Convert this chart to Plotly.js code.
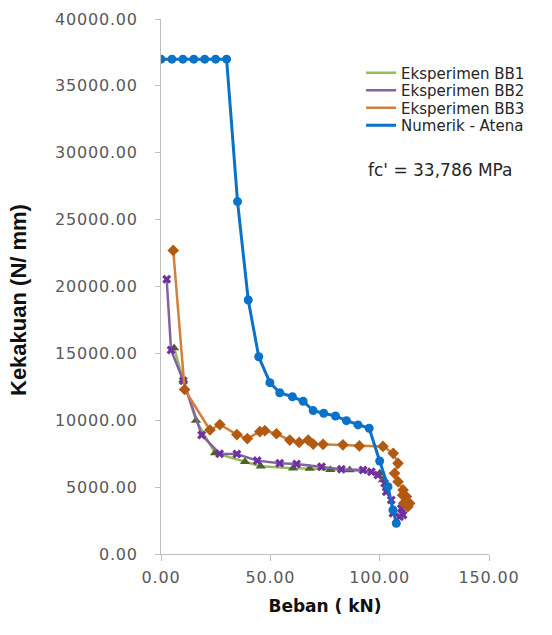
<!DOCTYPE html>
<html>
<head>
<meta charset="utf-8">
<script src="https://cdn.plot.ly/plotly-3.0.1.min.js"></script>
<style>
  html, body { margin: 0; padding: 0; background: #ffffff; overflow: hidden; }
  #chart { width: 552px; height: 635px; }
  #chart .xtick text, #chart .ytick text { letter-spacing: 0.8px; }
</style>
</head>
<body>
<div id="chart"></div>
<script>
// ---- Data ----
const seriesNames = ["Eksperimen BB1", "Eksperimen BB2", "Eksperimen BB3", "Numerik - Atena"];

const bb1Load = [6.0, 10.2, 16.0, 24.7, 38.4, 45.6, 60.4, 68.0, 77.4, 86.3, 100.0, 101.5, 103.5];
const bb1Stiff = [15400, 13010, 9990, 7550, 6900, 6560, 6420, 6400, 6290, 6280, 6030, 5530, 5050];

const bb2Load = [2.6, 4.6, 10.2, 18.6, 26.8, 34.7, 44.0, 54.3, 62.0, 73.4, 82.5, 92.4, 96.2, 99.2, 102.3, 103.0, 105.3, 106.1, 109.1, 110.7, 109.9];
const bb2Stiff = [20540, 15250, 12950, 8900, 7500, 7480, 6980, 6780, 6730, 6530, 6330, 6280, 6150, 5900, 5290, 4660, 4040, 3040, 2790, 2920, 3410];

const bb3Load = [5.6, 10.8, 22.4, 26.9, 34.7, 39.5, 45.2, 47.5, 52.8, 58.9, 63.2, 67.3, 69.6, 74.1, 83.2, 90.7, 101.5, 106.2, 108.4, 106.8, 108.4, 110.7, 112.2, 113.7, 112.9, 111.0, 110.5];
const bb3Stiff = [22700, 12300, 9270, 9680, 8930, 8630, 9150, 9220, 8990, 8520, 8340, 8520, 8220, 8200, 8160, 8080, 8040, 7530, 6780, 6030, 5410, 4790, 4290, 3790, 3540, 3800, 4400];

const numLoad = [0, 5, 10, 15, 20, 25, 30, 35, 39.9, 44.7, 49.8, 54.3, 60.1, 65, 69.6, 74.4, 79.8, 84.8, 90.1, 95.2, 100, 103.8, 106.1, 107.6];
const numStiff = [37000, 37000, 37000, 37000, 37000, 37000, 37000, 26350, 18990, 14750, 12810, 12060, 11760, 11420, 10720, 10520, 10320, 9970, 9650, 9400, 6950, 5030, 3290, 2300];

const xTickVals = [0, 50, 100, 150];
const yTickVals = [0, 5000, 10000, 15000, 20000, 25000, 30000, 35000, 40000];
const noteText = "fc' = 33,786 MPa";
const xTitle = "Beban ( kN)";
const yTitle = "Kekakuan (N/ mm)";

// ---- Styles ----
const lineColors = ["#9bbb59", "#8064a2", "#d0803c", "#0a72c8"];
const markerColors = ["#4f6228", "#7030a0", "#b35a12", "#0a72c8"];
const markerSymbols = ["triangle-up", "x", "diamond", "circle"];
const markerSizes = [9, 8, 9, 9];
const lineWidths = [2.5, 2.5, 2.5, 3];
const legendIds = ["legend", "legend2", "legend3", "legend4"];

const loads = [bb1Load, bb2Load, bb3Load, numLoad];
const stiffs = [bb1Stiff, bb2Stiff, bb3Stiff, numStiff];

const traces = [];
// data traces (legend shows line-only samples, like the original)
for (let i = 0; i < 4; i++) {
  traces.push({
    x: loads[i], y: stiffs[i], name: seriesNames[i], type: "scatter", mode: "lines+markers",
    showlegend: false,
    line: { color: lineColors[i], width: lineWidths[i] },
    marker: { symbol: markerSymbols[i], size: markerSizes[i], color: markerColors[i] }
  });
}
// legend-only line samples
for (let i = 0; i < 4; i++) {
  traces.push({
    x: [null], y: [null], name: seriesNames[i], type: "scatter", mode: "lines",
    legend: legendIds[i], showlegend: true,
    line: { color: lineColors[i], width: lineWidths[i] }
  });
}

const tickFont = { family: "DejaVu Sans, Verdana, sans-serif", size: 16, color: "#595959" };
const legendFont = { family: "DejaVu Sans, Verdana, sans-serif", size: 15, color: "#262626" };
const legendRowsPx = [73, 90.5, 108, 125.5];
const plotL = 161, plotW = 328, plotB = 554, plotH = 535;

const layout = {
  width: 552, height: 635,
  paper_bgcolor: "#ffffff", plot_bgcolor: "#ffffff",
  margin: { l: plotL, r: 552 - plotL - plotW, t: 19, b: 635 - plotB, autoexpand: false },
  showlegend: true,
  xaxis: {
    range: [0, 150], tickvals: xTickVals, tickformat: ".2f",
    showgrid: false, zeroline: false,
    showline: true, linecolor: "#bfbfbf", linewidth: 1,
    ticks: "outside", ticklen: 6, tickcolor: "#bfbfbf",
    tickfont: tickFont, ticklabelstandoff: 3,
    title: { text: xTitle, font: { family: "DejaVu Sans, Verdana, sans-serif", size: 17, color: "#111111", weight: "bold" }, standoff: 13 }
  },
  yaxis: {
    range: [0, 40000], tickvals: yTickVals, tickformat: ".2f",
    showgrid: false, zeroline: false,
    showline: true, linecolor: "#bfbfbf", linewidth: 1,
    ticks: "outside", ticklen: 5, tickcolor: "#bfbfbf",
    tickfont: tickFont, ticklabelstandoff: 14
  },
  annotations: [
    {
      text: yTitle, xref: "paper", yref: "paper", textangle: -90,
      x: (18 - plotL) / plotW, y: (plotB - 300) / plotH, xanchor: "center", yanchor: "middle",
      showarrow: false,
      font: { family: "Liberation Sans Narrow, Arial Narrow, sans-serif", size: 22, color: "#111111", weight: "bold" }
    },
    {
      text: noteText, xref: "paper", yref: "paper",
      x: (366 - plotL) / plotW, y: (plotB - 170) / plotH, xanchor: "left", yanchor: "middle",
      showarrow: false,
      font: { family: "DejaVu Sans, Verdana, sans-serif", size: 17, color: "#262626" }
    }
  ]
};

for (let i = 0; i < 4; i++) {
  layout[legendIds[i]] = {
    x: 0.61, y: (plotB - legendRowsPx[i]) / plotH, xanchor: "left", yanchor: "middle",
    bgcolor: "rgba(0,0,0,0)", borderwidth: 0,
    font: legendFont, itemwidth: 30
  };
}

Plotly.newPlot("chart", traces, layout, { displayModeBar: false, staticPlot: true });
</script>
</body>
</html>
